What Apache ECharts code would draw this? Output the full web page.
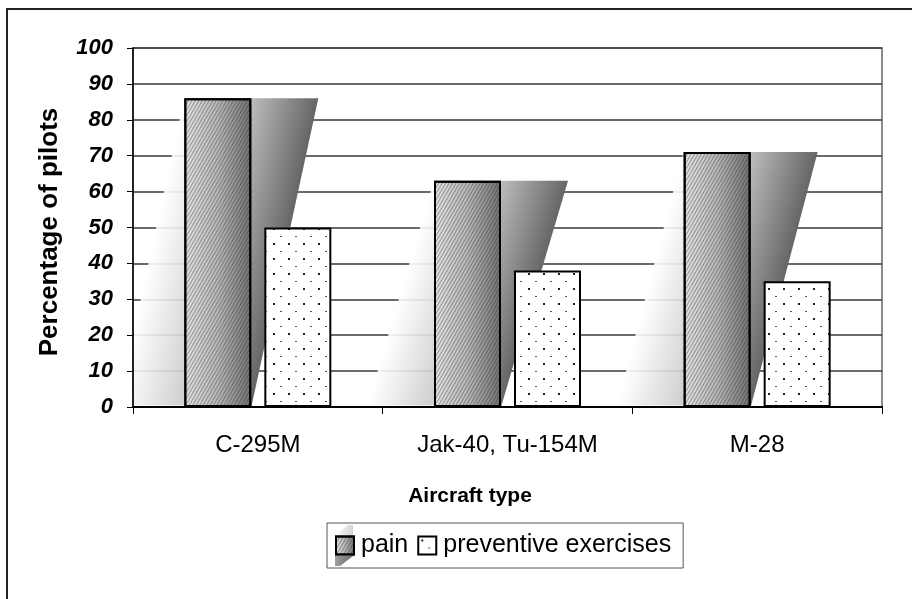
<!DOCTYPE html>
<html>
<head>
<meta charset="utf-8">
<script src="https://cdn.jsdelivr.net/npm/echarts@6/dist/echarts.min.js"></script>
<style>
  html, body { margin: 0; padding: 0; background: #fff; }
  #chart { width: 912px; height: 599px; }
</style>
</head>
<body>
<div id="chart"></div>
<script>
// Share of pilots reporting spinal pain vs. doing preventive exercises, by aircraft type
const categories = ['C-295M', 'Jak-40, Tu-154M', 'M-28'];
const seriesNames = ['pain', 'preventive exercises'];
const painValues = [86, 63, 71];
const exerciseValues = [50, 38, 35];
const yAxisRange = { min: 0, max: 100, interval: 10 };
const xAxisTitle = 'Aircraft type';
const yAxisTitle = 'Percentage of pilots';

const FONT = '"Liberation Sans", Arial, Helvetica, sans-serif';
const BAR_W = 67;
const BAR_GAP = 13;

// small staggered dot texture used to fill the exercise bars
function dotTexture() {
  const c = document.createElement('canvas');
  c.width = 15; c.height = 15;
  const g = c.getContext('2d');
  g.fillStyle = '#fff';
  g.fillRect(0, 0, 15, 15);
  g.fillStyle = '#222';
  g.fillRect(3, 3, 2, 2);
  g.fillStyle = '#555';
  g.fillRect(10, 11, 2, 1);
  return c;
}

// gradient from the right-angle corner (cx, cy) towards the hypotenuse
function hypGradient(cx, cy, hx1, hy1, hx2, hy2, stops) {
  const vx = hx2 - hx1, vy = hy2 - hy1;
  const len2 = vx * vx + vy * vy;
  const t = ((cx - hx1) * vx + (cy - hy1) * vy) / len2;
  const fx = hx1 + t * vx, fy = hy1 + t * vy;
  return new echarts.graphic.LinearGradient(cx, cy, fx, fy, stops, true);
}

// shading wedges either side of each pain bar
function renderShade(params, api) {
  const i = api.value(0);
  const v = api.value(1);
  const top = api.coord([i, v]);
  const base = api.coord([i, 0]);
  const groupW = BAR_W * 2 + BAR_GAP;
  const L = top[0] - groupW / 2;
  const R = L + BAR_W;
  const plotLeft = params.coordSys.x + 1;
  const yT = top[1], yB = base[1];
  const yFloor = yB - 1.5;

  let leftPts;
  if (L - BAR_W < plotLeft) {
    const t = (L - plotLeft) / BAR_W;
    const yHit = yT + t * (yB - yT);
    leftPts = [[L, yT], [plotLeft, yHit], [plotLeft, yFloor], [L, yFloor]];
  } else {
    const xFloor = L - BAR_W * (yFloor - yT) / (yB - yT);
    leftPts = [[L, yT], [xFloor, yFloor], [L, yFloor]];
  }
  const leftFill = hypGradient(L, yB, L, yT, L - BAR_W, yB, [
    { offset: 0, color: 'rgba(200,200,200,0.9)' },
    { offset: 1, color: 'rgba(255,255,255,0.9)' }
  ]);
  const rightFill = hypGradient(R, yT, R + BAR_W, yT, R, yB, [
    { offset: 0, color: '#bdbdbd' },
    { offset: 1, color: '#666' }
  ]);
  return {
    type: 'group',
    children: [
      { type: 'polygon', shape: { points: leftPts }, style: { fill: leftFill } },
      { type: 'polygon', shape: { points: [[R, yT], [R + BAR_W, yT], [R, yB]] }, style: { fill: rightFill } }
    ]
  };
}

const chart = echarts.init(document.getElementById('chart'), null, { renderer: 'canvas' });

const painFill = new echarts.graphic.LinearGradient(0, 0, 1, 0, [
  { offset: 0, color: '#e4e4e4' },
  { offset: 0.5, color: '#b8b8b8' },
  { offset: 1, color: '#707070' }
]);

chart.setOption({
  backgroundColor: '#fff',
  animation: false,
  textStyle: { fontFamily: FONT },
  grid: {
    left: 133, right: 30, top: 48, bottom: 192,
    show: true, borderColor: '#666', borderWidth: 1.5, backgroundColor: 'transparent'
  },
  legend: {
    data: seriesNames,
    left: 327, top: 523,
    orient: 'horizontal',
    icon: 'rect',
    itemWidth: 18, itemHeight: 18, itemGap: 9,
    padding: [10, 12, 10, 8],
    borderColor: '#555', borderWidth: 1,
    textStyle: { fontFamily: FONT, fontSize: 25, color: '#000', padding: [0, 0, 0, 2], lineHeight: 25 }
  },
  xAxis: {
    type: 'category',
    data: categories,
    name: xAxisTitle,
    nameLocation: 'middle',
    nameGap: 79,
    nameTextStyle: { fontFamily: FONT, fontSize: 21, fontWeight: 'bold', color: '#000', padding: [0, 75, 0, 0] },
    axisLine: { lineStyle: { color: '#000', width: 2 } },
    axisTick: { show: true, length: 7, lineStyle: { color: '#000', width: 1 } },
    axisLabel: { fontFamily: FONT, fontSize: 24, color: '#000', margin: 26 },
    splitLine: { show: false }
  },
  yAxis: {
    type: 'value',
    min: yAxisRange.min, max: yAxisRange.max, interval: yAxisRange.interval,
    name: yAxisTitle,
    nameLocation: 'middle',
    nameGap: 70,
    nameRotate: 90,
    nameTextStyle: { fontFamily: FONT, fontSize: 26, fontWeight: 'bold', color: '#000', padding: [0, 9, 0, 0] },
    axisLine: { show: true, lineStyle: { color: '#000', width: 1.5 } },
    axisTick: { show: true, length: 6, lineStyle: { color: '#000', width: 1 } },
    axisLabel: { fontFamily: FONT, fontSize: 22, fontWeight: 'bold', fontStyle: 'italic', color: '#000', margin: 20 },
    splitLine: { show: true, lineStyle: { color: '#3a3a3a', width: 1.5 } }
  },
  series: [
    {
      type: 'custom',
      name: 'shade',
      z: 1,
      silent: true,
      renderItem: renderShade,
      encode: { x: 0, y: 1 },
      data: painValues.map((v, i) => [i, v])
    },
    {
      type: 'bar',
      name: seriesNames[0],
      z: 3,
      data: painValues,
      barWidth: BAR_W,
      barGap: (BAR_GAP / BAR_W * 100).toFixed(1) + '%',
      itemStyle: {
        color: painFill,
        borderColor: '#000',
        borderWidth: 2,
        decal: {
          symbol: 'rect',
          symbolSize: 1,
          dashArrayX: [1, 0],
          dashArrayY: [1, 2],
          rotation: -Math.PI / 3,
          color: 'rgba(40,40,40,0.4)'
        }
      }
    },
    {
      type: 'bar',
      name: seriesNames[1],
      z: 3,
      data: exerciseValues,
      barWidth: BAR_W,
      itemStyle: {
        color: { image: dotTexture(), repeat: 'repeat' },
        borderColor: '#000',
        borderWidth: 2
      }
    }
  ],
  graphic: [
    {
      type: 'rect',
      silent: true,
      z: 0,
      shape: { x: 7, y: 9, width: 940, height: 640 },
      style: { fill: 'none', stroke: '#222', lineWidth: 2 }
    },
    {
      // small shading wedges around the legend swatch of the pain series
      type: 'polygon',
      silent: true,
      z: 0,
      shape: { points: [[335, 556], [353, 556], [340, 566], [335, 566]] },
      style: { fill: new echarts.graphic.LinearGradient(0, 0, 1, 0, [{ offset: 0, color: '#a0a0a0' }, { offset: 1, color: '#6a6a6a' }]) }
    },
    {
      type: 'polygon',
      silent: true,
      z: 0,
      shape: { points: [[348, 525], [353, 525], [353, 536], [335, 536]] },
      style: { fill: new echarts.graphic.LinearGradient(0, 0, 1, 0, [{ offset: 0, color: '#ffffff' }, { offset: 1, color: '#d4d4d4' }]) }
    }
  ]
});
</script>
</body>
</html>
